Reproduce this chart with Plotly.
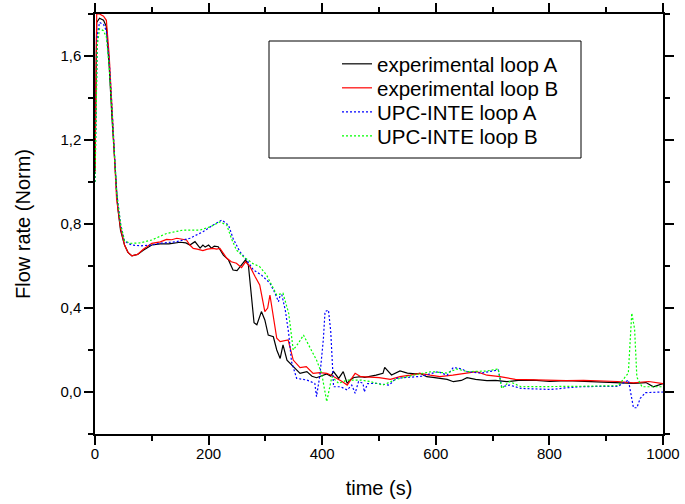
import plotly.graph_objects as go

# Experimental loop A (black)
tA = [0, 3, 8, 15, 20, 25, 30, 35, 40, 45, 52, 58, 65, 75, 85, 100, 115, 130, 150, 160, 167, 176, 185, 190, 194, 200, 205, 210, 217, 226, 235, 243, 250, 258, 265, 270, 274, 280, 285, 293, 299, 305, 314, 320, 326, 331, 338, 349, 361, 373, 382, 390, 400, 408, 415, 420, 429, 437, 444, 450, 456, 468, 475, 484, 495, 507, 510, 522, 537, 550, 564, 572, 584, 595, 608, 620, 631, 645, 655, 670, 690, 705, 725, 745, 772, 800, 830, 860, 889, 920, 948, 970, 983, 1000]
yA = [1.05, 1.76, 1.78, 1.77, 1.74, 1.55, 1.30, 1.07, 0.88, 0.77, 0.70, 0.665, 0.648, 0.655, 0.675, 0.700, 0.705, 0.705, 0.713, 0.71, 0.700, 0.716, 0.685, 0.70, 0.69, 0.70, 0.685, 0.695, 0.692, 0.652, 0.629, 0.581, 0.578, 0.605, 0.629, 0.605, 0.486, 0.33, 0.32, 0.383, 0.343, 0.271, 0.263, 0.20, 0.16, 0.224, 0.152, 0.12, 0.089, 0.097, 0.075, 0.068, 0.08, 0.086, 0.075, 0.097, 0.065, 0.097, 0.041, 0.06, 0.069, 0.073, 0.07, 0.073, 0.08, 0.089, 0.117, 0.081, 0.10, 0.09, 0.086, 0.089, 0.073, 0.07, 0.065, 0.06, 0.049, 0.055, 0.068, 0.06, 0.054, 0.055, 0.049, 0.055, 0.057, 0.05, 0.054, 0.05, 0.049, 0.045, 0.041, 0.045, 0.025, 0.04]

# Experimental loop B (red)
tB = [0, 3, 8, 15, 20, 25, 30, 38, 45, 52, 58, 65, 75, 85, 100, 115, 126, 135, 144, 155, 161, 167, 173, 180, 190, 198, 208, 214, 220, 232, 240, 249, 258, 265, 273, 282, 290, 299, 304, 308, 314, 320, 326, 340, 349, 361, 372, 384, 396, 408, 416, 426, 435, 444, 458, 468, 484, 500, 520, 537, 555, 572, 590, 607, 630, 655, 672, 690, 713, 740, 772, 800, 830, 860, 889, 920, 948, 975, 1000]
yB = [1.05, 1.80, 1.80, 1.79, 1.77, 1.60, 1.35, 0.92, 0.78, 0.70, 0.665, 0.648, 0.655, 0.68, 0.708, 0.715, 0.727, 0.725, 0.732, 0.728, 0.724, 0.70, 0.684, 0.68, 0.673, 0.68, 0.684, 0.68, 0.684, 0.637, 0.62, 0.613, 0.592, 0.62, 0.597, 0.549, 0.51, 0.383, 0.40, 0.462, 0.36, 0.256, 0.24, 0.248, 0.152, 0.116, 0.121, 0.089, 0.092, 0.089, 0.08, 0.065, 0.05, 0.033, 0.089, 0.073, 0.07, 0.068, 0.06, 0.073, 0.08, 0.089, 0.08, 0.073, 0.08, 0.089, 0.097, 0.08, 0.073, 0.06, 0.057, 0.056, 0.054, 0.055, 0.054, 0.05, 0.043, 0.05, 0.04]

# UPC-INTE loop A (blue)
tC = [0, 4, 8, 15, 20, 25, 30, 38, 45, 52, 58, 65, 80, 100, 114, 144, 167, 190, 208, 223, 235, 243, 255, 267, 279, 293, 308, 317, 323, 326, 329, 332, 335, 341, 346, 355, 373, 387, 390, 396, 402, 405, 411, 415, 420, 432, 444, 452, 458, 464, 472, 474, 480, 495, 518, 530, 550, 575, 604, 620, 631, 645, 655, 680, 700, 710, 716, 730, 750, 780, 803, 830, 856, 890, 921, 939, 945, 948, 954, 960, 969, 985, 1000]
yC = [1.0, 1.70, 1.76, 1.75, 1.72, 1.58, 1.35, 0.95, 0.80, 0.72, 0.708, 0.70, 0.696, 0.70, 0.708, 0.716, 0.732, 0.763, 0.795, 0.819, 0.795, 0.732, 0.668, 0.629, 0.581, 0.557, 0.518, 0.47, 0.43, 0.46, 0.462, 0.42, 0.39, 0.279, 0.144, 0.065, 0.057, 0.041, -0.022, 0.081, 0.25, 0.383, 0.39, 0.29, 0.025, 0.025, 0.01, 0.033, -0.006, 0.05, 0.041, 0.0, 0.04, 0.041, 0.033, 0.065, 0.07, 0.075, 0.097, 0.08, 0.117, 0.11, 0.097, 0.09, 0.10, 0.105, 0.025, 0.033, 0.017, 0.015, 0.012, 0.02, 0.025, 0.027, 0.027, 0.057, -0.04, -0.075, -0.075, -0.03, -0.003, 0.0, 0.0]

# UPC-INTE loop B (green)
tD = [0, 4, 8, 15, 20, 25, 30, 38, 45, 52, 62, 80, 100, 126, 155, 185, 203, 220, 232, 240, 249, 261, 279, 290, 302, 314, 320, 331, 341, 349, 358, 367, 378, 390, 399, 408, 417, 429, 444, 468, 484, 507, 530, 560, 593, 620, 637, 655, 690, 710, 716, 730, 750, 797, 850, 921, 939, 945, 950, 954, 963, 1000]
yD = [1.0, 1.65, 1.73, 1.72, 1.69, 1.55, 1.33, 0.95, 0.80, 0.72, 0.708, 0.71, 0.724, 0.755, 0.771, 0.771, 0.787, 0.81, 0.795, 0.732, 0.676, 0.645, 0.61, 0.597, 0.557, 0.494, 0.462, 0.47, 0.375, 0.2, 0.232, 0.271, 0.216, 0.152, 0.089, -0.046, 0.073, 0.041, 0.057, 0.057, 0.05, 0.033, 0.06, 0.08, 0.097, 0.09, 0.11, 0.097, 0.10, 0.11, 0.017, 0.05, 0.025, 0.025, 0.027, 0.03, 0.09, 0.376, 0.30, 0.07, 0.025, 0.025]

names = ["experimental loop A", "experimental loop B", "UPC-INTE loop A", "UPC-INTE loop B"]
colors = ["#000000", "#ff0000", "#0000ff", "#00ff00"]
dashes = ["solid", "solid", "2px,2px", "2px,2px"]
series = [(tA, yA), (tB, yB), (tC, yC), (tD, yD)]

FONT = "Liberation Sans"

W, H = 685, 504
ml, mr, mt, mb = 95, 22, 14, 70
pw, ph = W - ml - mr, H - mt - mb

def px_to_paper_x(px):
    return (px - ml) / pw

def py_to_paper_y(py):
    return (H - mb - py) / ph

legend_ids = ["legend", "legend2", "legend3", "legend4"]
row_centers = [64, 88, 112, 136]

fig = go.Figure()
for (t, y), n, c, d, lg in zip(series, names, colors, dashes, legend_ids):
    fig.add_trace(go.Scatter(x=t, y=y, mode="lines", name=n, legend=lg,
                             line=dict(color=c, width=1.2, dash=d)))

fig.add_shape(type="rect", xref="paper", yref="paper",
              x0=px_to_paper_x(269), x1=px_to_paper_x(581),
              y0=py_to_paper_y(158), y1=py_to_paper_y(41),
              line=dict(color="black", width=1), fillcolor="white", layer="below")

axis_common = dict(showline=True, linecolor="black", linewidth=1.5, mirror="allticks",
                   ticks="outside", ticklen=9, tickwidth=1.5, tickcolor="black",
                   showgrid=False, zeroline=False, automargin=False,
                   tickfont=dict(family=FONT, size=15, color="black"))

legend_layout = {}
for lg, yc in zip(legend_ids, row_centers):
    legend_layout[lg] = dict(x=px_to_paper_x(337), y=py_to_paper_y(yc),
                             xanchor="left", yanchor="middle",
                             bgcolor="rgba(0,0,0,0)", borderwidth=0,
                             font=dict(family=FONT, size=20.5, color="black"))

fig.update_layout(
    width=W, height=H,
    margin=dict(l=ml, r=mr, t=mt, b=mb),
    paper_bgcolor="white", plot_bgcolor="white",
    separators=",.",
    font=dict(family=FONT, color="black"),
    xaxis=dict(range=[0, 1000], tickmode="array", tickvals=[0, 200, 400, 600, 800, 1000],
               tickformat="d", ticklabelstandoff=-4,
               minor=dict(dtick=100, tick0=0, ticks="outside", ticklen=5, tickcolor="black", tickwidth=1.5),
               title=dict(text="time (s)", font=dict(family=FONT, size=20), standoff=20),
               **axis_common),
    yaxis=dict(range=[-0.2, 1.8], tickmode="array", tickvals=[0.0, 0.4, 0.8, 1.2, 1.6],
               tickformat=".1f",
               minor=dict(dtick=0.2, tick0=0, ticks="outside", ticklen=5, tickcolor="black", tickwidth=1.5),
               title=dict(text="Flow rate (Norm)", font=dict(family=FONT, size=20), standoff=24),
               **axis_common),
    showlegend=True,
    **legend_layout,
)

fig.write_html("out.html")
